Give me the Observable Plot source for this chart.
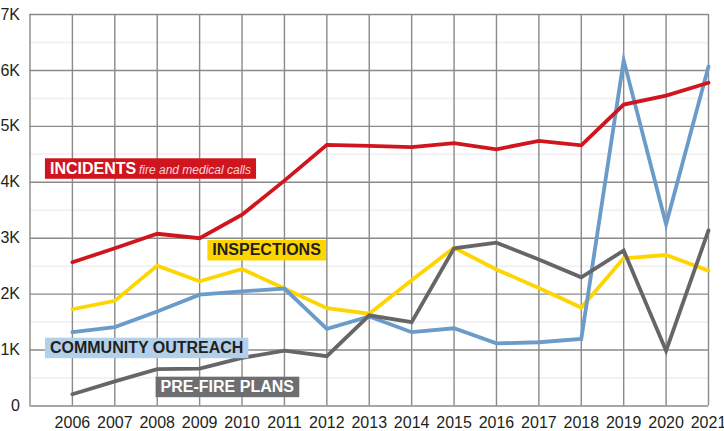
<!DOCTYPE html>
<html>
<head>
<meta charset="utf-8">
<script src="https://cdn.jsdelivr.net/npm/d3@7"></script>
<script src="https://cdn.jsdelivr.net/npm/@observablehq/plot@0.6"></script>
<style>
  html, body { margin: 0; padding: 0; background: #ffffff; }
  #chart svg { display: block; }
</style>
</head>
<body>
<div id="chart"></div>
<script>
// ---- Data ----
const years = [2006, 2007, 2008, 2009, 2010, 2011, 2012, 2013, 2014, 2015, 2016, 2017, 2018, 2019, 2020, 2021];
const incidents   = [2570, 2820, 3080, 3000, 3420, 4030, 4670, 4650, 4630, 4700, 4590, 4740, 4660, 5390, 5550, 5780];
const inspections = [1730, 1880, 2510, 2230, 2450, 2100, 1750, 1650, 2250, 2830, 2440, 2110, 1760, 2640, 2700, 2420];
const outreach    = [1320, 1410, 1690, 1990, 2050, 2100, 1380, 1600, 1320, 1390, 1120, 1140, 1200, 6180, 3250, 6070];
const preFire     = [210, 440, 660, 670, 860, 990, 890, 1620, 1500, 2820, 2920, 2620, 2300, 2780, 990, 3140];

const seriesNames  = ["INCIDENTS", "INSPECTIONS", "COMMUNITY OUTREACH", "PRE-FIRE PLANS"];
const seriesColors = ["#d1151e", "#ffd500", "#6b9bc9", "#666669"];
const drawOrder    = ["INSPECTIONS", "COMMUNITY OUTREACH", "PRE-FIRE PLANS", "INCIDENTS"];

const yTicks      = [0, 1000, 2000, 3000, 4000, 5000, 6000, 7000];
const yTickLabels = ["0", "1K", "2K", "3K", "4K", "5K", "6K", "7K"];
const yMinorTicks = [500, 1500, 2500, 3500, 4500, 5500, 6500];
const xGridYears  = [2005, 2006, 2007, 2008, 2009, 2010, 2011, 2012, 2013, 2014, 2015, 2016, 2017, 2018, 2019, 2020, 2021];
const xTickYears  = years;

// Series labels (annotation anchors in data units: text start, baseline)
const labelText     = ["INCIDENTS", "INSPECTIONS", "COMMUNITY OUTREACH", "PRE-FIRE PLANS"];
const labelYear     = [2005.47, 2009.30, 2005.47, 2008.08];
const labelValue    = [4152, 2691, 944, 247];
const labelBoxColor = ["#d1151e", "#ffd500", "#b3d0ea", "#6d6e71"];
const labelInk      = ["#ffffff", "#231f20", "#231f20", "#ffffff"];
const subText  = ["fire and medical calls"];
const subYear  = [2007.57];
const subValue = [4152];

// ---- Build table ----
const valuesBySeries = {
  "INCIDENTS": incidents,
  "INSPECTIONS": inspections,
  "COMMUNITY OUTREACH": outreach,
  "PRE-FIRE PLANS": preFire
};
const rows = drawOrder.flatMap(s => years.map((yr, i) => ({ year: yr, value: valuesBySeries[s][i], series: s })));
const labels = labelText.map((t, i) => ({ text: t, year: labelYear[i], value: labelValue[i], ink: labelInk[i], box: labelBoxColor[i] }));
const subs = subText.map((t, i) => ({ text: t, year: subYear[i], value: subValue[i] }));

const tickFont = "'Liberation Sans Narrow', 'Arial Narrow', 'Liberation Sans', Arial, sans-serif";
const labelFont = "'Liberation Sans', Arial, Helvetica, sans-serif";

const chart = Plot.plot({
  width: 724,
  height: 431,
  marginLeft: 29.5,
  marginRight: 16,
  marginTop: 14,
  marginBottom: 25.5,
  style: { fontFamily: tickFont, fontSize: "16px", color: "#231f20", background: "#ffffff", overflow: "visible" },
  x: { domain: [2005, 2021], axis: null },
  y: { domain: [0, 7000], axis: null },
  color: { domain: seriesNames, range: seriesColors },
  marks: [
    Plot.ruleY(yMinorTicks, { stroke: "#f1f1f6", strokeWidth: 2 }),
    Plot.ruleX(xGridYears, { stroke: "#8a8a8a", strokeWidth: 1.4 }),
    Plot.ruleY(yTicks, { stroke: "#8a8a8a", strokeWidth: 1.4 }),
    Plot.axisX(xTickYears, { tickSize: 0, tickPadding: 11, tickFormat: d => String(d), label: null, fill: "#231f20" }),
    Plot.axisY(yTicks, { tickSize: 0, tickPadding: 10, tickFormat: (d, i) => yTickLabels[yTicks.indexOf(d)], label: null, fill: "#231f20" }),
    Plot.line(rows, { x: "year", y: "value", z: "series", stroke: "series", strokeWidth: 3.8, strokeLinejoin: "miter", strokeMiterlimit: 10, curve: "linear" }),
    Plot.text(labels, { x: "year", y: "value", text: "text", fill: "ink", textAnchor: "start", lineAnchor: "bottom",
      fontFamily: labelFont, fontSize: 16, fontWeight: "bold", ariaDescription: "label-main" }),
    Plot.text(subs, { x: "year", y: "value", text: "text", fill: "#f7d6d8", textAnchor: "start", lineAnchor: "bottom",
      fontFamily: labelFont, fontSize: 12, fontStyle: "italic", ariaDescription: "label-sub" })
  ]
});

document.getElementById("chart").append(chart);

// ---- Background boxes behind the series labels ----
(function addBoxes() {
  const svg = chart;
  const svgRect = svg.getBoundingClientRect();
  const mainG = svg.querySelector('g[aria-description="label-main"]');
  const subG = svg.querySelector('g[aria-description="label-sub"]');
  if (!mainG) return;
  const mains = Array.from(mainG.querySelectorAll("text"));
  const subsEl = subG ? Array.from(subG.querySelectorAll("text")) : [];
  const boxG = document.createElementNS("http://www.w3.org/2000/svg", "g");
  mains.forEach((t, i) => {
    const r = t.getBoundingClientRect();
    let x0 = r.left - svgRect.left, x1 = r.right - svgRect.left;
    let y0 = r.top - svgRect.top, y1 = r.bottom - svgRect.top;
    if (i === 0) {
      subsEl.forEach(s => {
        const q = s.getBoundingClientRect();
        x1 = Math.max(x1, q.right - svgRect.left);
      });
    }
    const rect = document.createElementNS("http://www.w3.org/2000/svg", "rect");
    rect.setAttribute("x", x0 - 5);
    rect.setAttribute("y", y0 - 1.5);
    rect.setAttribute("width", (x1 - x0) + 10);
    rect.setAttribute("height", (y1 - y0) + 3.5);
    rect.setAttribute("fill", labels[i].box);
    boxG.appendChild(rect);
  });
  mainG.parentNode.insertBefore(boxG, mainG);
})();
</script>
</body>
</html>
